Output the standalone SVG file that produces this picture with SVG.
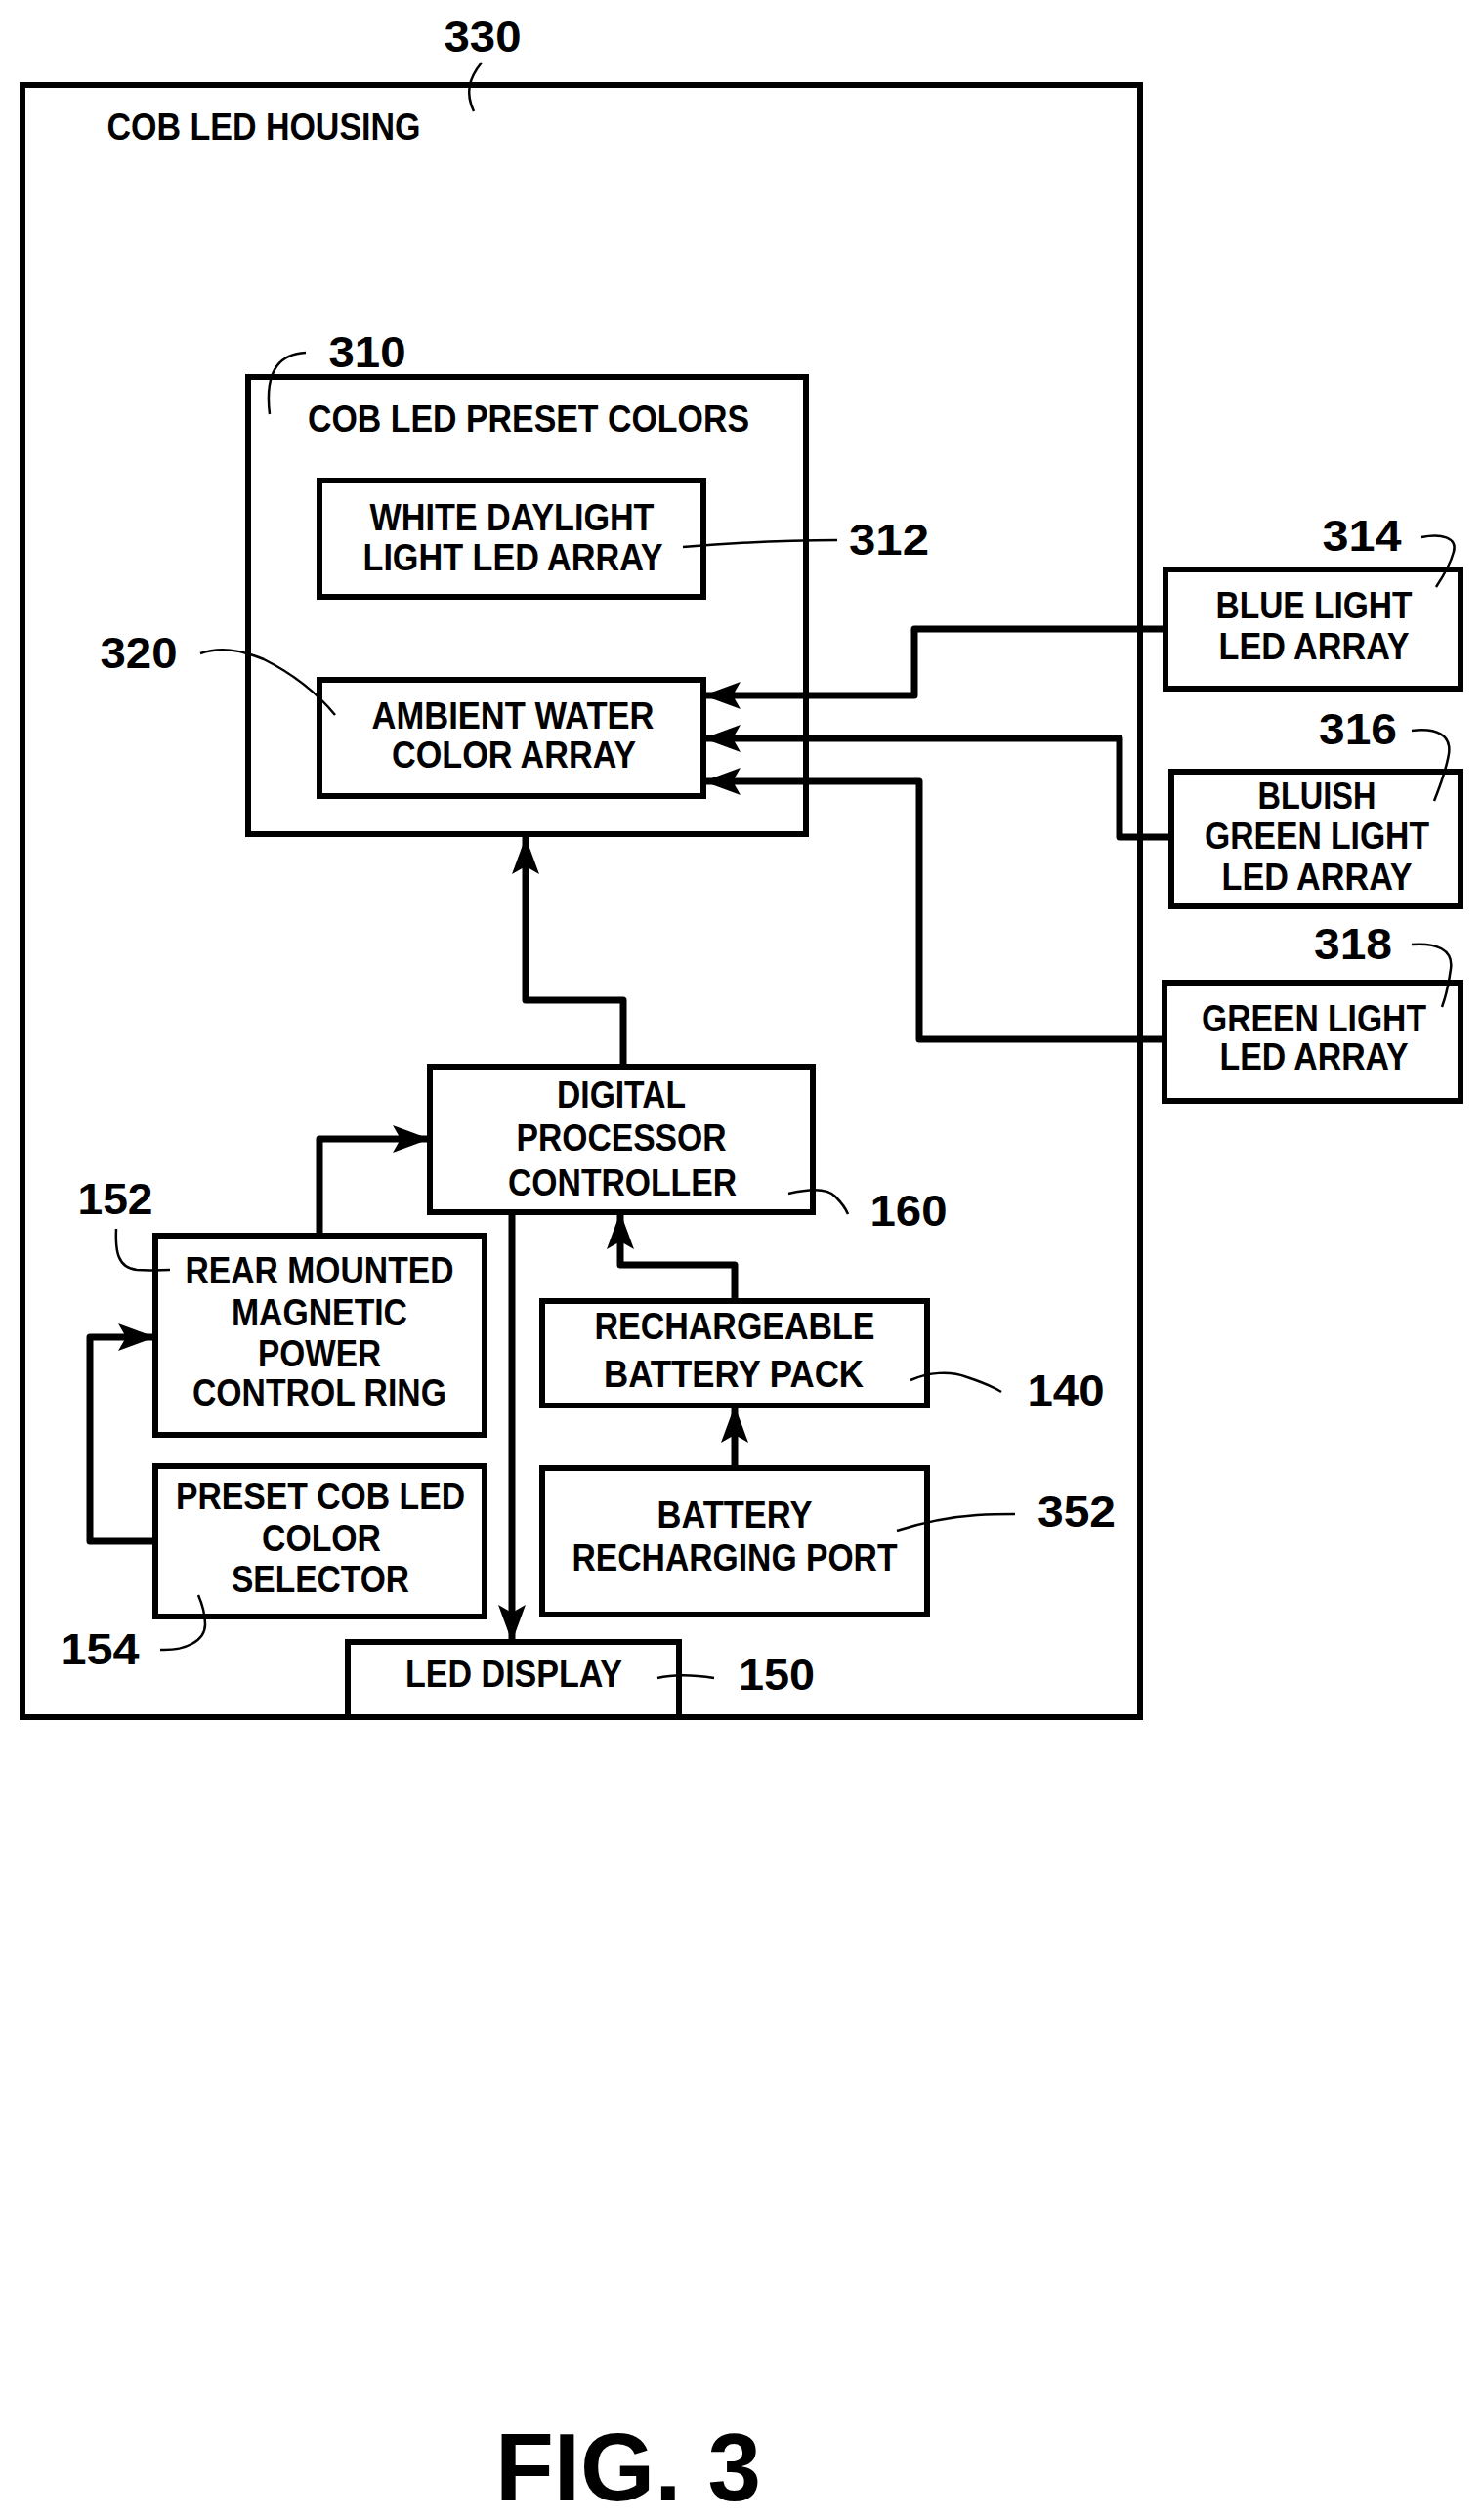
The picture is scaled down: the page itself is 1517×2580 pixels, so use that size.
<svg xmlns="http://www.w3.org/2000/svg" width="1517" height="2580" viewBox="0 0 1517 2580">
<style>
.b{fill:none;stroke:#000;stroke-width:6}
.c{fill:none;stroke:#000;stroke-width:7;stroke-linejoin:round}
.l{fill:none;stroke:#000;stroke-width:2.5}
text{font-family:"Liberation Sans",Arial,sans-serif;font-weight:bold;fill:#000;text-anchor:middle}
.t{font-size:38px}
.n{font-size:44px}
</style>
<defs>
<marker id="a" markerUnits="userSpaceOnUse" markerWidth="40" markerHeight="40" viewBox="0 0 40 40" refX="38" refY="20" orient="auto">
<path d="M0 6 L38 20 L0 34 L8 20 Z" fill="#000"/>
</marker>
</defs>
<rect width="1517" height="2580" fill="#fff"/>
<g id="housing">
<rect class="b" x="23" y="87" width="1144" height="1671"/>
<text class="t" x="270" y="143" textLength="321" lengthAdjust="spacingAndGlyphs">COB LED HOUSING</text>
<text class="n" x="494" y="53" textLength="79" lengthAdjust="spacingAndGlyphs">330</text>
<path class="l" d="M493 64 C480 80 476 95 485 114"/>
</g>
<g id="n310">
<rect class="b" x="254" y="386" width="571" height="468"/>
<text class="t" x="541" y="442" textLength="452" lengthAdjust="spacingAndGlyphs">COB LED PRESET COLORS</text>
<text class="n" x="376" y="376" textLength="79" lengthAdjust="spacingAndGlyphs">310</text>
<path class="l" d="M313 361 C290 362 270 375 276 424"/>
</g>
<g id="n312">
<rect class="b" x="327" y="492" width="393" height="119"/>
<text class="t" x="524" y="543" textLength="291" lengthAdjust="spacingAndGlyphs">WHITE DAYLIGHT</text>
<text class="t" x="525" y="584" textLength="307" lengthAdjust="spacingAndGlyphs">LIGHT LED ARRAY</text>
<text class="n" x="910" y="568" textLength="82" lengthAdjust="spacingAndGlyphs">312</text>
<path class="l" d="M699 560 C760 555 810 553 857 553"/>
</g>
<g id="n320">
<rect class="b" x="327" y="696" width="393" height="119"/>
<text class="t" x="525" y="746" textLength="289" lengthAdjust="spacingAndGlyphs">AMBIENT WATER</text>
<text class="t" x="526" y="786" textLength="250" lengthAdjust="spacingAndGlyphs">COLOR ARRAY</text>
<text class="n" x="142" y="684" textLength="79" lengthAdjust="spacingAndGlyphs">320</text>
<path class="l" d="M205 669 C225 662 245 665 270 675 C300 690 325 710 343 732"/>
</g>
<g id="n314">
<rect class="b" x="1193" y="583" width="302" height="122"/>
<text class="t" x="1345" y="633" textLength="201" lengthAdjust="spacingAndGlyphs">BLUE LIGHT</text>
<text class="t" x="1345" y="675" textLength="195" lengthAdjust="spacingAndGlyphs">LED ARRAY</text>
<text class="n" x="1394" y="564" textLength="81" lengthAdjust="spacingAndGlyphs">314</text>
<path class="l" d="M1455 550 C1475 546 1492 550 1488 565 C1484 580 1476 592 1470 601"/>
</g>
<g id="n316">
<rect class="b" x="1199" y="790" width="296" height="138"/>
<text class="t" x="1348" y="828" textLength="121" lengthAdjust="spacingAndGlyphs">BLUISH</text>
<text class="t" x="1348" y="869" textLength="230" lengthAdjust="spacingAndGlyphs">GREEN LIGHT</text>
<text class="t" x="1348" y="911" textLength="195" lengthAdjust="spacingAndGlyphs">LED ARRAY</text>
<text class="n" x="1390" y="762" textLength="80" lengthAdjust="spacingAndGlyphs">316</text>
<path class="l" d="M1445 748 C1470 745 1486 752 1483 772 C1480 790 1474 805 1468 820"/>
</g>
<g id="n318">
<rect class="b" x="1192" y="1006" width="303" height="121"/>
<text class="t" x="1345" y="1056" textLength="230" lengthAdjust="spacingAndGlyphs">GREEN LIGHT</text>
<text class="t" x="1345" y="1095" textLength="193" lengthAdjust="spacingAndGlyphs">LED ARRAY</text>
<text class="n" x="1385" y="982" textLength="80" lengthAdjust="spacingAndGlyphs">318</text>
<path class="l" d="M1445 967 C1470 965 1488 972 1485 992 C1483 1008 1480 1020 1476 1031"/>
</g>
<g id="n160">
<rect class="b" x="440" y="1092" width="392" height="149"/>
<text class="t" x="636" y="1134" textLength="132" lengthAdjust="spacingAndGlyphs">DIGITAL</text>
<text class="t" x="636" y="1178" textLength="215" lengthAdjust="spacingAndGlyphs">PROCESSOR</text>
<text class="t" x="637" y="1224" textLength="234" lengthAdjust="spacingAndGlyphs">CONTROLLER</text>
<text class="n" x="930" y="1255" textLength="79" lengthAdjust="spacingAndGlyphs">160</text>
<path class="l" d="M807 1222 C825 1218 845 1215 855 1225 C862 1232 866 1238 868 1243"/>
</g>
<g id="n152">
<rect class="b" x="159" y="1265" width="337" height="204"/>
<text class="t" x="327" y="1314" textLength="275" lengthAdjust="spacingAndGlyphs">REAR MOUNTED</text>
<text class="t" x="327" y="1357" textLength="180" lengthAdjust="spacingAndGlyphs">MAGNETIC</text>
<text class="t" x="327" y="1399" textLength="126" lengthAdjust="spacingAndGlyphs">POWER</text>
<text class="t" x="327" y="1439" textLength="260" lengthAdjust="spacingAndGlyphs">CONTROL RING</text>
<text class="n" x="118" y="1243" textLength="77" lengthAdjust="spacingAndGlyphs">152</text>
<path class="l" d="M119 1258 C118 1280 120 1298 140 1300 C155 1301 165 1300 174 1300"/>
</g>
<g id="n154">
<rect class="b" x="159" y="1501" width="337" height="154"/>
<text class="t" x="328" y="1545" textLength="296" lengthAdjust="spacingAndGlyphs">PRESET COB LED</text>
<text class="t" x="329" y="1588" textLength="122" lengthAdjust="spacingAndGlyphs">COLOR</text>
<text class="t" x="328" y="1630" textLength="182" lengthAdjust="spacingAndGlyphs">SELECTOR</text>
<text class="n" x="102" y="1704" textLength="81" lengthAdjust="spacingAndGlyphs">154</text>
<path class="l" d="M164 1689 C190 1690 210 1680 210 1663 C210 1650 206 1640 203 1633"/>
</g>
<g id="n150">
<rect class="b" x="356" y="1681" width="339" height="77"/>
<text class="t" x="526" y="1727" textLength="222" lengthAdjust="spacingAndGlyphs">LED DISPLAY</text>
<text class="n" x="795" y="1730" textLength="78" lengthAdjust="spacingAndGlyphs">150</text>
<path class="l" d="M673 1718 C690 1714 712 1715 731 1718"/>
</g>
<g id="n140">
<rect class="b" x="555" y="1332" width="394" height="107"/>
<text class="t" x="752" y="1371" textLength="287" lengthAdjust="spacingAndGlyphs">RECHARGEABLE</text>
<text class="t" x="751" y="1420" textLength="266" lengthAdjust="spacingAndGlyphs">BATTERY PACK</text>
<text class="n" x="1091" y="1439" textLength="79" lengthAdjust="spacingAndGlyphs">140</text>
<path class="l" d="M932 1413 C950 1405 972 1403 990 1410 C1005 1415 1017 1420 1025 1425"/>
</g>
<g id="n352">
<rect class="b" x="555" y="1503" width="394" height="150"/>
<text class="t" x="752" y="1564" textLength="159" lengthAdjust="spacingAndGlyphs">BATTERY</text>
<text class="t" x="752" y="1608" textLength="333" lengthAdjust="spacingAndGlyphs">RECHARGING PORT</text>
<text class="n" x="1102" y="1563" textLength="80" lengthAdjust="spacingAndGlyphs">352</text>
<path class="l" d="M918 1567 C940 1560 970 1553 1000 1551 C1015 1550 1030 1550 1039 1550"/>
</g>
<g id="connectors">
<path class="c" d="M638 1092 V1024 H538 V857" marker-end="url(#a)"/>
<path class="c" d="M327 1265 V1166 H440" marker-end="url(#a)"/>
<path class="c" d="M159 1578 H92 V1369 H159" marker-end="url(#a)"/>
<path class="c" d="M524 1241 V1681" marker-end="url(#a)"/>
<path class="c" d="M752 1332 V1295 H635 V1241" marker-end="url(#a)"/>
<path class="c" d="M752 1503 V1439" marker-end="url(#a)"/>
<path class="c" d="M1193 644 H936 V712 H720" marker-end="url(#a)"/>
<path class="c" d="M1199 857 H1146 V756 H720" marker-end="url(#a)"/>
<path class="c" d="M1192 1064 H941 V800 H720" marker-end="url(#a)"/>
</g>
<text x="643" y="2560" style="font-size:98px" textLength="272" lengthAdjust="spacingAndGlyphs">FIG. 3</text>
</svg>
